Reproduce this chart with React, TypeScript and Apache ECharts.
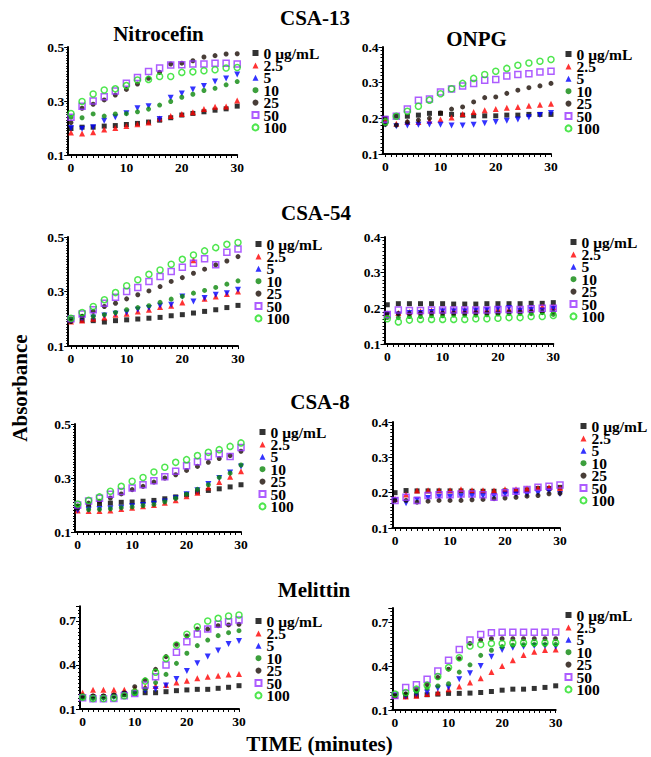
import React, { useEffect, useRef } from "react";
import * as echarts from "echarts";

// Time points (minutes)
const times = [0, 2, 4, 6, 8, 10, 12, 14, 16, 18, 20, 22, 24, 26, 28, 30];
// Concentration legend labels
const concentrations = ["0 μg/mL", "2.5", "5", "10", "25", "50", "100"];
const xTickLabels = [0, 10, 20, 30];

// Each panel: rows in order of concentrations (0, 2.5, 5, 10, 25, 50, 100)
const nitrocefinCSA13 = [
  [0.198, 0.203, 0.203, 0.207, 0.209, 0.213, 0.217, 0.222, 0.229, 0.238, 0.248, 0.254, 0.26, 0.266, 0.271, 0.281],
  [0.183, 0.18, 0.184, 0.194, 0.2, 0.207, 0.214, 0.22, 0.235, 0.244, 0.252, 0.258, 0.27, 0.279, 0.28, 0.302],
  [0.2, 0.197, 0.203, 0.227, 0.24, 0.255, 0.273, 0.281, 0.233, 0.312, 0.328, 0.343, 0.356, 0.372, 0.383, 0.398],
  [0.24, 0.238, 0.252, 0.244, 0.252, 0.253, 0.26, 0.27, 0.285, 0.298, 0.314, 0.325, 0.339, 0.347, 0.36, 0.372],
  [0.22, 0.273, 0.288, 0.304, 0.322, 0.343, 0.363, 0.384, 0.406, 0.437, 0.44, 0.449, 0.463, 0.468, 0.474, 0.475],
  [0.24, 0.281, 0.3, 0.316, 0.337, 0.366, 0.387, 0.409, 0.422, 0.433, 0.434, 0.437, 0.437, 0.44, 0.44, 0.437],
  [0.254, 0.298, 0.326, 0.341, 0.345, 0.357, 0.378, 0.38, 0.391, 0.391, 0.406, 0.408, 0.412, 0.416, 0.422, 0.424],
];
const onpgCSA13 = [
  [0.2, 0.206, 0.206, 0.209, 0.214, 0.214, 0.211, 0.209, 0.207, 0.207, 0.207, 0.209, 0.209, 0.211, 0.211, 0.211],
  [0.193, 0.185, 0.19, 0.19, 0.193, 0.197, 0.202, 0.212, 0.218, 0.223, 0.226, 0.23, 0.232, 0.235, 0.238, 0.241],
  [0.183, 0.178, 0.18, 0.182, 0.183, 0.182, 0.18, 0.18, 0.182, 0.186, 0.19, 0.193, 0.197, 0.203, 0.209, 0.215],
  [],
  [0.183, 0.181, 0.19, 0.195, 0.2, 0.215, 0.226, 0.232, 0.246, 0.258, 0.26, 0.27, 0.279, 0.286, 0.291, 0.298],
  [0.197, 0.206, 0.226, 0.251, 0.254, 0.274, 0.282, 0.291, 0.298, 0.307, 0.309, 0.319, 0.323, 0.325, 0.33, 0.332],
  [0.19, 0.206, 0.22, 0.234, 0.251, 0.269, 0.283, 0.298, 0.312, 0.323, 0.332, 0.34, 0.349, 0.355, 0.36, 0.365],
];
const nitrocefinCSA54 = [
  [0.196, 0.194, 0.193, 0.188, 0.193, 0.196, 0.199, 0.202, 0.205, 0.211, 0.215, 0.221, 0.227, 0.233, 0.241, 0.249],
  [0.19, 0.194, 0.2, 0.205, 0.215, 0.218, 0.227, 0.233, 0.243, 0.248, 0.26, 0.415, 0.273, 0.282, 0.291, 0.3],
  [0.193, 0.202, 0.205, 0.212, 0.218, 0.223, 0.233, 0.239, 0.248, 0.251, 0.282, 0.263, 0.276, 0.288, 0.294, 0.306],
  [0.2, 0.209, 0.209, 0.215, 0.223, 0.233, 0.241, 0.248, 0.26, 0.272, 0.282, 0.294, 0.304, 0.315, 0.327, 0.339],
  [0.19, 0.209, 0.227, 0.245, 0.257, 0.273, 0.288, 0.302, 0.318, 0.337, 0.351, 0.367, 0.382, 0.398, 0.412, 0.428],
  [0.2, 0.217, 0.233, 0.257, 0.279, 0.3, 0.315, 0.337, 0.355, 0.373, 0.389, 0.404, 0.42, 0.398, 0.444, 0.456],
  [0.202, 0.223, 0.245, 0.27, 0.296, 0.321, 0.343, 0.363, 0.379, 0.4, 0.418, 0.434, 0.449, 0.461, 0.473, 0.48],
];
const onpgCSA54 = [
  [0.21, 0.213, 0.213, 0.213, 0.213, 0.213, 0.212, 0.212, 0.212, 0.213, 0.213, 0.213, 0.213, 0.214, 0.214, 0.216],
  [0.183, 0.187, 0.19, 0.192, 0.194, 0.194, 0.195, 0.196, 0.196, 0.196, 0.198, 0.198, 0.199, 0.199, 0.205, 0.204],
  [0.183, 0.183, 0.187, 0.187, 0.19, 0.192, 0.192, 0.192, 0.194, 0.195, 0.198, 0.201, 0.194, 0.196, 0.194, 0.198],
  [0.174, 0.174, 0.177, 0.177, 0.179, 0.179, 0.181, 0.181, 0.181, 0.182, 0.184, 0.185, 0.185, 0.185, 0.188, 0.183],
  [0.186, 0.185, 0.185, 0.186, 0.186, 0.186, 0.186, 0.186, 0.187, 0.187, 0.187, 0.189, 0.189, 0.19, 0.19, 0.19],
  [0.183, 0.195, 0.194, 0.194, 0.195, 0.195, 0.195, 0.195, 0.195, 0.195, 0.197, 0.197, 0.197, 0.199, 0.2, 0.2],
  [0.171, 0.162, 0.167, 0.169, 0.169, 0.169, 0.169, 0.169, 0.171, 0.171, 0.172, 0.174, 0.174, 0.177, 0.177, 0.18],
];
const nitrocefinCSA8 = [
  [0.195, 0.201, 0.205, 0.207, 0.21, 0.211, 0.214, 0.217, 0.223, 0.23, 0.238, 0.248, 0.254, 0.26, 0.267, 0.275],
  [0.18, 0.178, 0.178, 0.18, 0.185, 0.19, 0.195, 0.2, 0.208, 0.218, 0.232, 0.245, 0.265, 0.285, 0.305, 0.325],
  [0.18, 0.182, 0.185, 0.187, 0.19, 0.195, 0.2, 0.205, 0.213, 0.225, 0.24, 0.255, 0.278, 0.3, 0.32, 0.343],
  [0.197, 0.183, 0.184, 0.186, 0.19, 0.193, 0.198, 0.202, 0.212, 0.225, 0.24, 0.258, 0.275, 0.302, 0.318, 0.348],
  [0.189, 0.207, 0.214, 0.226, 0.241, 0.257, 0.269, 0.285, 0.3, 0.312, 0.328, 0.343, 0.358, 0.372, 0.383, 0.399],
  [0.2, 0.215, 0.225, 0.24, 0.25, 0.263, 0.275, 0.29, 0.305, 0.325, 0.345, 0.36, 0.38, 0.39, 0.38, 0.413],
  [0.204, 0.217, 0.23, 0.251, 0.269, 0.288, 0.302, 0.322, 0.34, 0.358, 0.368, 0.383, 0.395, 0.405, 0.417, 0.43],
];
const onpgCSA8 = [
  [0.2, 0.206, 0.205, 0.205, 0.205, 0.205, 0.205, 0.204, 0.204, 0.204, 0.205, 0.206, 0.208, 0.212, 0.212, 0.215],
  [0.182, 0.195, 0.206, 0.207, 0.207, 0.207, 0.21, 0.207, 0.207, 0.206, 0.21, 0.21, 0.212, 0.213, 0.215, 0.213],
  [0.178, 0.17, 0.18, 0.185, 0.188, 0.188, 0.19, 0.19, 0.19, 0.19, 0.195, 0.195, 0.194, 0.198, 0.203, 0.196],
  [],
  [0.178, 0.178, 0.173, 0.176, 0.178, 0.178, 0.178, 0.18, 0.181, 0.183, 0.185, 0.187, 0.19, 0.192, 0.197, 0.198],
  [0.178, 0.187, 0.178, 0.192, 0.194, 0.194, 0.196, 0.196, 0.194, 0.187, 0.2, 0.204, 0.209, 0.215, 0.218, 0.222],
  [],
];
const nitrocefinMelittin = [
  [0.184, 0.184, 0.184, 0.191, 0.2, 0.207, 0.211, 0.211, 0.218, 0.225, 0.23, 0.234, 0.234, 0.241, 0.248, 0.259],
  [0.211, 0.232, 0.232, 0.232, 0.232, 0.24, 0.25, 0.256, 0.264, 0.28, 0.293, 0.309, 0.32, 0.327, 0.336, 0.339],
  [0.18, 0.173, 0.173, 0.18, 0.2, 0.207, 0.225, 0.235, 0.26, 0.305, 0.359, 0.411, 0.457, 0.498, 0.543, 0.564],
  [0.177, 0.173, 0.177, 0.184, 0.195, 0.21, 0.241, 0.28, 0.336, 0.411, 0.48, 0.532, 0.57, 0.6, 0.62, 0.634],
  [0.19, 0.19, 0.19, 0.195, 0.21, 0.252, 0.298, 0.37, 0.457, 0.541, 0.598, 0.645, 0.645, 0.668, 0.673, 0.677],
  [0.177, 0.17, 0.17, 0.172, 0.19, 0.205, 0.264, 0.32, 0.4, 0.486, 0.559, 0.611, 0.645, 0.677, 0.695, 0.707],
  [0.18, 0.172, 0.172, 0.175, 0.19, 0.215, 0.29, 0.35, 0.445, 0.536, 0.609, 0.661, 0.7, 0.718, 0.734, 0.741],
];
const onpgMelittin = [
  [0.198, 0.193, 0.198, 0.205, 0.209, 0.214, 0.214, 0.216, 0.22, 0.227, 0.236, 0.243, 0.243, 0.248, 0.255, 0.266],
  [0.198, 0.193, 0.198, 0.209, 0.22, 0.243, 0.261, 0.289, 0.318, 0.361, 0.402, 0.441, 0.477, 0.5, 0.511, 0.516],
  [0.2, 0.193, 0.209, 0.22, 0.248, 0.255, 0.311, 0.352, 0.402, 0.466, 0.511, 0.527, 0.534, 0.539, 0.539, 0.534],
  [0.2, 0.21, 0.225, 0.25, 0.265, 0.28, 0.36, 0.41, 0.475, 0.51, 0.535, 0.545, 0.548, 0.55, 0.55, 0.55],
  [0.198, 0.209, 0.243, 0.277, 0.323, 0.38, 0.452, 0.557, 0.58, 0.589, 0.589, 0.589, 0.589, 0.589, 0.589, 0.589],
  [0.2, 0.255, 0.273, 0.311, 0.368, 0.441, 0.516, 0.58, 0.618, 0.63, 0.634, 0.634, 0.634, 0.634, 0.634, 0.636],
  [0.209, 0.22, 0.243, 0.27, 0.33, 0.391, 0.459, 0.539, 0.55, 0.557, 0.557, 0.561, 0.561, 0.561, 0.561, 0.561],
];

const FONT = "'Liberation Serif', 'Times New Roman', serif";

const markerStyles: any[] = [
  { symbol: "rect", symbolSize: 5, itemStyle: { color: "#000000" } },
  { symbol: "triangle", symbolSize: 6, itemStyle: { color: "#ff0000" } },
  { symbol: "triangle", symbolSize: 6, symbolRotate: 180, itemStyle: { color: "#0000ff" } },
  { symbol: "circle", symbolSize: 5, itemStyle: { color: "#0b870b" } },
  { symbol: "circle", symbolSize: 5, itemStyle: { color: "#1a0d05" } },
  { symbol: "rect", symbolSize: 6, itemStyle: { color: "rgba(255,255,255,0)", borderColor: "#9933ff", borderWidth: 1.5 } },
  { symbol: "circle", symbolSize: 6, itemStyle: { color: "rgba(255,255,255,0)", borderColor: "#22e022", borderWidth: 1.5 } },
];

const panels = [
  { rows: nitrocefinCSA13, yMin: 0.1, yMax: 0.5, yInt: 0.2, minor: 20, grid: { left: 68.2, top: 47, width: 169, height: 108 }, legend: { left: 251.5, top: 45 } },
  { rows: onpgCSA13, yMin: 0.1, yMax: 0.4, yInt: 0.1, minor: 10, grid: { left: 382.5, top: 47, width: 168.5, height: 107 }, legend: { left: 564.5, top: 46 } },
  { rows: nitrocefinCSA54, yMin: 0.1, yMax: 0.5, yInt: 0.2, minor: 20, grid: { left: 68.2, top: 237, width: 169.8, height: 109 }, legend: { left: 254.5, top: 236 } },
  { rows: onpgCSA54, yMin: 0.1, yMax: 0.4, yInt: 0.1, minor: 10, grid: { left: 384.5, top: 237, width: 168.8, height: 107 }, legend: { left: 569.5, top: 234 } },
  { rows: nitrocefinCSA8, yMin: 0.1, yMax: 0.5, yInt: 0.2, minor: 20, grid: { left: 75, top: 424, width: 166, height: 108 }, legend: { left: 258.5, top: 424 } },
  { rows: onpgCSA8, yMin: 0.1, yMax: 0.4, yInt: 0.1, minor: 10, grid: { left: 392.3, top: 422, width: 167.7, height: 106 }, legend: { left: 579.5, top: 418 } },
  { rows: nitrocefinMelittin, yMin: 0.1, yMax: 0.8, yInt: 0.3, minor: 12, grid: { left: 80, top: 606.3, width: 159, height: 102.7 }, legend: { left: 254.5, top: 613 } },
  { rows: onpgMelittin, yMin: 0.1, yMax: 0.8, yInt: 0.3, minor: 12, grid: { left: 392.3, top: 608, width: 163.4, height: 102 }, legend: { left: 564.5, top: 607 } },
];

const minuteTicks: number[] = [];
for (let m = 0; m <= 30; m += 1) minuteTicks.push(m);

function buildOption() {
  const grid: any[] = [];
  const xAxis: any[] = [];
  const yAxis: any[] = [];
  const legend: any[] = [];
  const series: any[] = [];

  panels.forEach((p, i) => {
    grid.push({ ...p.grid, containLabel: false });
    xAxis.push({
      type: "value",
      gridIndex: i,
      min: -0.5,
      max: 30,
      axisLine: { show: true, onZero: false, lineStyle: { color: "#000", width: 2 } },
      axisTick: { show: true, customValues: minuteTicks, length: 3, lineStyle: { color: "#000", width: 1 } },
      axisLabel: {
        customValues: xTickLabels,
        fontFamily: FONT,
        fontWeight: "bold",
        fontSize: 13.5,
        color: "#000",
        margin: 5,
      },
      splitLine: { show: false },
    });
    yAxis.push({
      type: "value",
      gridIndex: i,
      min: p.yMin,
      max: p.yMax,
      interval: p.yInt,
      axisLine: { show: true, onZero: false, lineStyle: { color: "#000", width: 2 } },
      axisTick: { show: true, length: 4, lineStyle: { color: "#000", width: 1 } },
      minorTick: { show: true, splitNumber: p.minor, length: 2, lineStyle: { color: "#000", width: 1 } },
      axisLabel: {
        fontFamily: FONT,
        fontWeight: "bold",
        fontSize: 13.5,
        color: "#000",
        margin: 4,
        showMaxLabel: p.yMax === 0.8 ? false : true,
        formatter: (v: number) => (Math.round(v * 10) / 10).toFixed(1),
      },
      splitLine: { show: false },
      minorSplitLine: { show: false },
    });
    legend.push({
      orient: "vertical",
      left: p.legend.left,
      top: p.legend.top,
      padding: 0,
      itemGap: -3.6,
      itemWidth: 6,
      itemHeight: 6,
      selectedMode: false,
      data: concentrations,
      textStyle: { fontFamily: FONT, fontWeight: "bold", fontSize: 15.5, color: "#000" },
    });
    p.rows.forEach((vals, k) => {
      series.push({
        type: "scatter",
        name: concentrations[k],
        xAxisIndex: i,
        yAxisIndex: i,
        ...markerStyles[k],
        data: vals.map((v, j) => [times[j], v]),
        emphasis: { disabled: true },
      });
    });
  });

  const titleFont = { fontFamily: FONT, fontWeight: "bold", fontSize: 21, fill: "#000", align: "center", verticalAlign: "middle" };
  const titles: [string, number, number][] = [
    ["CSA-13", 315, 18],
    ["Nitrocefin", 158.5, 33.5],
    ["ONPG", 476.5, 38.5],
    ["CSA-54", 316, 213],
    ["CSA-8", 320, 402],
    ["Melittin", 314, 590],
    ["TIME (minutes)", 319.5, 744],
  ];
  const graphic: any[] = titles.map(([t, x, y]) => ({
    type: "text",
    x,
    y,
    silent: true,
    style: { text: t, ...titleFont },
  }));
  graphic.push({
    type: "text",
    x: 20,
    y: 388,
    rotation: Math.PI / 2,
    silent: true,
    style: { text: "Absorbance", ...titleFont },
  });

  return {
    animation: false,
    backgroundColor: "#ffffff",
    grid,
    xAxis,
    yAxis,
    legend,
    series,
    graphic,
  };
}

export default function App() {
  const ref = useRef<HTMLDivElement>(null);
  useEffect(() => {
    if (!ref.current) return;
    const chart = echarts.init(ref.current, undefined, { renderer: "svg" });
    chart.setOption(buildOption() as any);
    return () => chart.dispose();
  }, []);
  return (
    <div
      ref={ref}
      style={{ position: "absolute", left: 0, top: 0, width: 651, height: 757, background: "#fff" }}
    />
  );
}
